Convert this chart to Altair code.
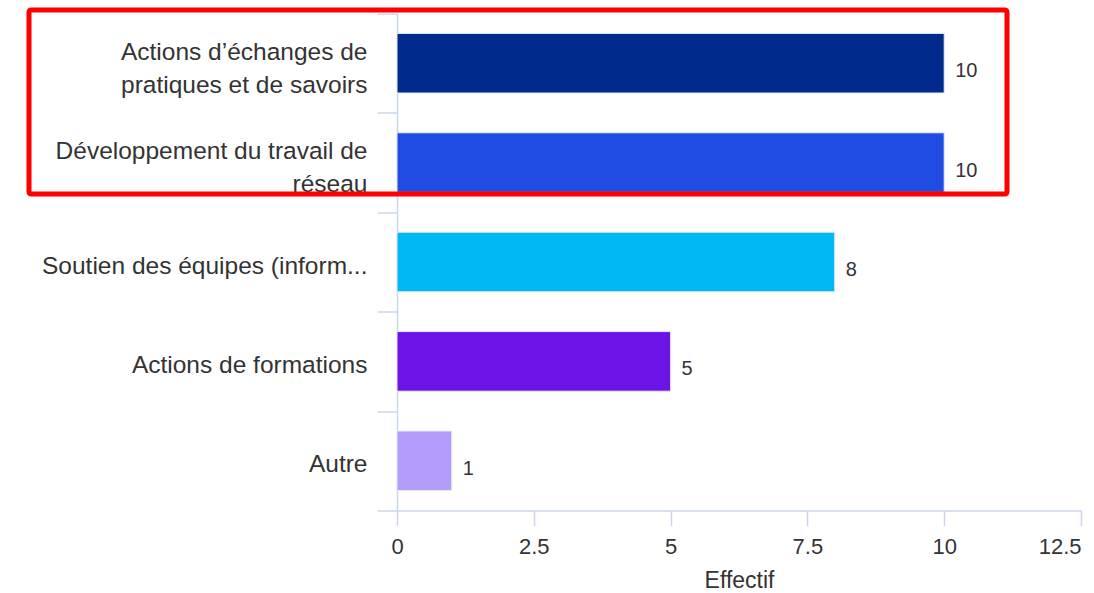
import altair as alt
import pandas as pd

categories = [
    "Actions d’échanges de pratiques et de savoirs",
    "Développement du travail de réseau",
    "Soutien des équipes (inform...",
    "Actions de formations",
    "Autre",
]
label_lines = [
    ["Actions d’échanges de", "pratiques et de savoirs"],
    ["Développement du travail de", "réseau"],
    ["Soutien des équipes (inform..."],
    ["Actions de formations"],
    ["Autre"],
]
values = [10, 10, 8, 5, 1]
palette = ["#002a8c", "#204ce3", "#00b8f2", "#6c13e8", "#b39cfc"]
x_ticks = [0, 2.5, 5, 7.5, 10, 12.5]

df = pd.DataFrame({"cat": categories, "val": values})

# build labelExpr for multi-line labels
expr = "datum.label"
for cat, lines in reversed(list(zip(categories, label_lines))):
    arr = "[" + ",".join("'" + l + "'" for l in lines) + "]"
    expr = f"datum.label == '{cat}' ? {arr} : ({expr})"

multi = [c for c, l in zip(categories, label_lines) if len(l) > 1]
multi_test = "indexof([" + ",".join("'" + c + "'" for c in multi) + "], datum.value) >= 0"

FONT = "Liberation Sans"
AXC = "#ccd6eb"

y_enc = alt.Y(
    "cat:N",
    sort=categories,
    title=None,
    scale=alt.Scale(paddingInner=0, paddingOuter=0),
    axis=alt.Axis(
        labelExpr=expr,
        labelFontSize=24.5,
        labelColor="#333333",
        labelFont=FONT,
        labelLimit=500,
        labelLineHeight=33,
        labelPadding=10,
        labelOffset={"condition": {"test": multi_test, "value": -11}, "value": 4},
        tickBand="extent",
        tickSize=20,
        tickColor=AXC,
        domainColor=AXC,
        tickWidth=1.5,
        domainWidth=1.5,
        grid=False,
    ),
)

x_enc = alt.X(
    "val:Q",
    title="Effectif",
    scale=alt.Scale(domain=[0, 12.5], nice=False),
    axis=alt.Axis(
        values=x_ticks,
        format="~g",
        labelFlush=False,
        labelAlign={"condition": {"test": f"datum.value == {x_ticks[-1]}", "value": "right"}, "value": "center"},
        labelFontSize=22,
        labelColor="#333333",
        labelFont=FONT,
        labelPadding=11,
        tickSize=15,
        tickColor=AXC,
        domainColor=AXC,
        tickWidth=1.5,
        domainWidth=1.5,
        grid=False,
        titleFont=FONT,
        titleFontSize=23,
        titleFontWeight="normal",
        titleColor="#333333",
        titlePadding=12,
    ),
)

bars = alt.Chart(df).mark_bar(size=59.6, stroke="#e6ebf5", strokeWidth=1).encode(
    y=y_enc,
    x=x_enc,
    color=alt.Color("cat:N", scale=alt.Scale(domain=categories, range=palette), legend=None),
)

text = alt.Chart(df).mark_text(
    align="left", baseline="middle", dx=11, dy=8, fontSize=20, font=FONT, color="#333333"
).encode(
    y=alt.Y("cat:N", sort=categories),
    x="val:Q",
    text="val:Q",
)

box = alt.Chart(pd.DataFrame({"a": [0]})).mark_rect(
    fill=None, stroke="#ff0000", strokeWidth=5, cornerRadius=2
).encode(
    x=alt.value(-368), x2=alt.value(610), y=alt.value(-3.5), y2=alt.value(180.5)
)

chart = alt.layer(bars, text, box).properties(
    width=684,
    height=497,
    autosize=alt.AutoSizeParams(type="none"),
    padding={"left": 397, "top": 13.5, "right": 13, "bottom": 82.5},
).configure(background="white").configure_view(stroke=None, strokeWidth=0)

chart.save("out.html", embed_options={"renderer": "svg", "actions": False})
